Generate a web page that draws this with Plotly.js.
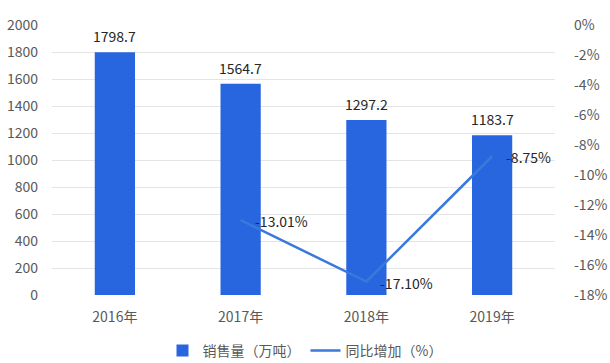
<!DOCTYPE html>
<html><head><meta charset="utf-8">
<script src="https://cdn.plot.ly/plotly-3.0.1.min.js"></script>
<style>html,body{margin:0;padding:0;background:#fff}#c{width:610px;height:363px}</style>
</head><body><div id="c"></div>
<script>
const categories = ['2016年','2017年','2018年','2019年'];
const sales = [1798.7, 1564.7, 1297.2, 1183.7];
const salesLabels = ['1798.7','1564.7','1297.2','1183.7'];
const growthCats = ['2017年','2018年','2019年'];
const growth = [-13.01, -17.10, -8.75];
const growthLabels = ['-13.01%','-17.10%','-8.75%'];
const leftTicks = [0,200,400,600,800,1000,1200,1400,1600,1800,2000];
const rightTicks = [0,-2,-4,-6,-8,-10,-12,-14,-16,-18];
const rightTickText = rightTicks.map(v => v + '%');

const FONT = '"Noto Sans CJK SC", "Noto Sans", sans-serif';
const barColor = '#2866e0';
const lineColor = '#3a78d9';

const traces = [
  {type:'bar', x:categories, y:sales, name:'销售量（万吨）', marker:{color:barColor}, hoverinfo:'skip'},
  {type:'scatter', mode:'lines', x:growthCats, y:growth, yaxis:'y2', name:'同比增加（%）',
   line:{color:lineColor, width:2.5}, hoverinfo:'skip'}
];

const annotations = [];
categories.forEach((c,i)=>annotations.push({x:c, y:sales[i], xref:'x', yref:'y', text:salesLabels[i],
  showarrow:false, yanchor:'bottom', yshift:4, font:{family:FONT, size:14, color:'#262626'}}));
growthCats.forEach((c,i)=>annotations.push({x:c, y:growth[i], xref:'x', yref:'y2', text:growthLabels[i],
  showarrow:false, xanchor:'left', xshift:12, yshift:-1, font:{family:FONT, size:14, color:'#262626'}}));

const layout = {
  width:610, height:363,
  margin:{l:52, r:55, t:25, b:68},
  paper_bgcolor:'#fff', plot_bgcolor:'#fff',
  font:{family:FONT, size:14, color:'#595959'},
  bargap:0.68,
  showlegend:true,
  legend:{orientation:'h', x:0.5, xanchor:'center', xref:'container', y:0.033, yanchor:'middle', yref:'container',
    font:{family:FONT, size:14, color:'#595959'}, itemwidth:30},
  xaxis:{type:'category', showgrid:false, zeroline:false, showline:false, ticks:'', ticklabelstandoff:12, tickfont:{size:14, color:'#595959'}},
  yaxis:{range:[0,2000], tickvals:leftTicks, ticktext:leftTicks.map(String), showgrid:true, gridcolor:'#e4e4e4', gridwidth:1,
    zeroline:false, showline:false, ticks:'', ticklabelstandoff:13, tickfont:{size:14, color:'#595959'}},
  yaxis2:{overlaying:'y', side:'right', range:[-18,0], tickvals:rightTicks, ticktext:rightTickText, showgrid:false,
    zeroline:false, showline:false, ticks:'', ticklabelstandoff:18, tickfont:{size:14, color:'#595959'}},
  annotations:annotations
};

Plotly.newPlot('c', traces, layout, {staticPlot:true, displayModeBar:false});
</script></body></html>
